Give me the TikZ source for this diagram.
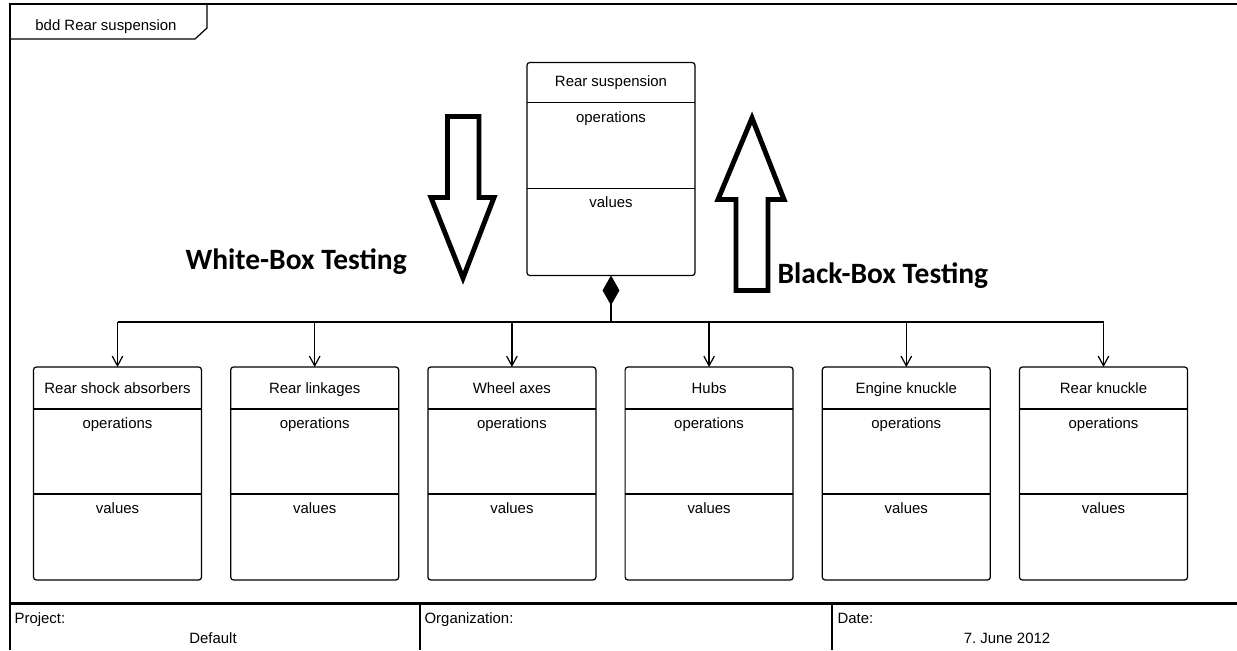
\documentclass[tikz,border=0pt]{standalone}
\usepackage{fontspec}
\setmainfont{Liberation Sans}
\newfontfamily\testfont{Carlito}
\usepackage{tikz}
\usetikzlibrary{calc}
\usetikzlibrary{arrows.meta}

\begin{document}
\begin{tikzpicture}[x=0.02cm,y=-0.02cm,line width=0.7pt,
        block/.style={draw,rounded corners=1.6pt,inner sep=0pt,outer sep=0pt,
            minimum width=3.36cm,minimum height=4.26cm},
        txt/.style={font=\fontsize{8.5}{10}\selectfont,anchor=base,inner sep=0pt},
        frame/.style={line width=1.4pt},
        big/.style={line width=2.8pt,line join=miter},
        testing/.style={font=\testfont\bfseries\fontsize{16.8}{20}\selectfont,
            anchor=base west,inner sep=0pt}]
            \useasboundingbox (0,0) rectangle (1237,650);

            % Frame
            \draw[frame] (10,650) -- (10,4) -- (1237,4);
            \draw[frame] (10,603.5) -- (1237,603.5);
            \draw[frame] (420,603.5) -- (420,650);
            \draw[frame] (832,603.5) -- (832,650);
            \draw (10,39) -- (195,39) -- (207,28) -- (207,4);
            \node[txt] (tab) at (106,30) {bdd Rear suspension};

            % Footer
            \node[txt,anchor=base west] (project) at (14,623) {Project:};
            \node[txt] (default) at (213,643) {Default};
            \node[txt,anchor=base west] (org) at (424,623) {Organization:};
            \node[txt,anchor=base west] (date) at (837,623) {Date:};
            \node[txt] (dateval) at (1007,643) {7.\ June 2012};

            % Rear suspension
            \node[block] (rs) at (611,169) {};
            \draw ($(rs.north west)+(0,40)$) -- ($(rs.north east)+(0,40)$);
            \draw ($(rs.north west)+(0,126)$) -- ($(rs.north east)+(0,126)$);
            \node[txt] (rs-t) at ($(rs.north)+(0,24)$) {Rear suspension};
            \node[txt] (rs-o) at ($(rs.north)+(0,60)$) {operations};
            \node[txt] (rs-v) at ($(rs.north)+(0,145)$) {values};

            \coordinate (bus) at (611,322);
            \draw[{Diamond[length=17pt,width=9.6pt,fill=black]}-] (rs.south) -- (bus);

            % Parts
            \foreach \name/\lbl [count=\i from 0] in {shock/Rear shock absorbers,
                link/Rear linkages, axes/Wheel axes, hubs/Hubs,
                engine/Engine knuckle, knuckle/Rear knuckle}
            {
            \node[block] (\name) at ({117.5+197.2*\i},473.5) {};
            \draw ($(\name.north west)+(0,42)$) -- ($(\name.north east)+(0,42)$);
            \draw ($(\name.north west)+(0,127)$) -- ($(\name.north east)+(0,127)$);
            \node[txt] (\name-t) at ($(\name.north)+(0,26)$) {\lbl};
            \node[txt] (\name-o) at ($(\name.north)+(0,61)$) {operations};
            \node[txt] (\name-v) at ($(\name.north)+(0,146)$) {values};
            \draw[-{Straight Barb[length=5.5pt,width=6pt]}] (\name.north |- bus) -- (\name.north);
            }
            \draw (shock.north |- bus) -- (knuckle.north |- bus);

            % Testing arrows
            \draw[big] (447.5,116.5) -- (479,116.5) -- (479,197.5) -- (494,197.5)
                -- (463,278) -- (431,197.5) -- (447.5,197.5) -- cycle;
            \draw[big] (736,290.5) -- (768,290.5) -- (768,199.5) -- (784,199.5)
                -- (752,118) -- (718,199.5) -- (736,199.5) -- cycle;
            \node[testing] (white) at (185,269) {White-Box Testing};
            \node[testing] (black) at (777,283) {Black-Box Testing};

        \end{tikzpicture}
\end{document}
